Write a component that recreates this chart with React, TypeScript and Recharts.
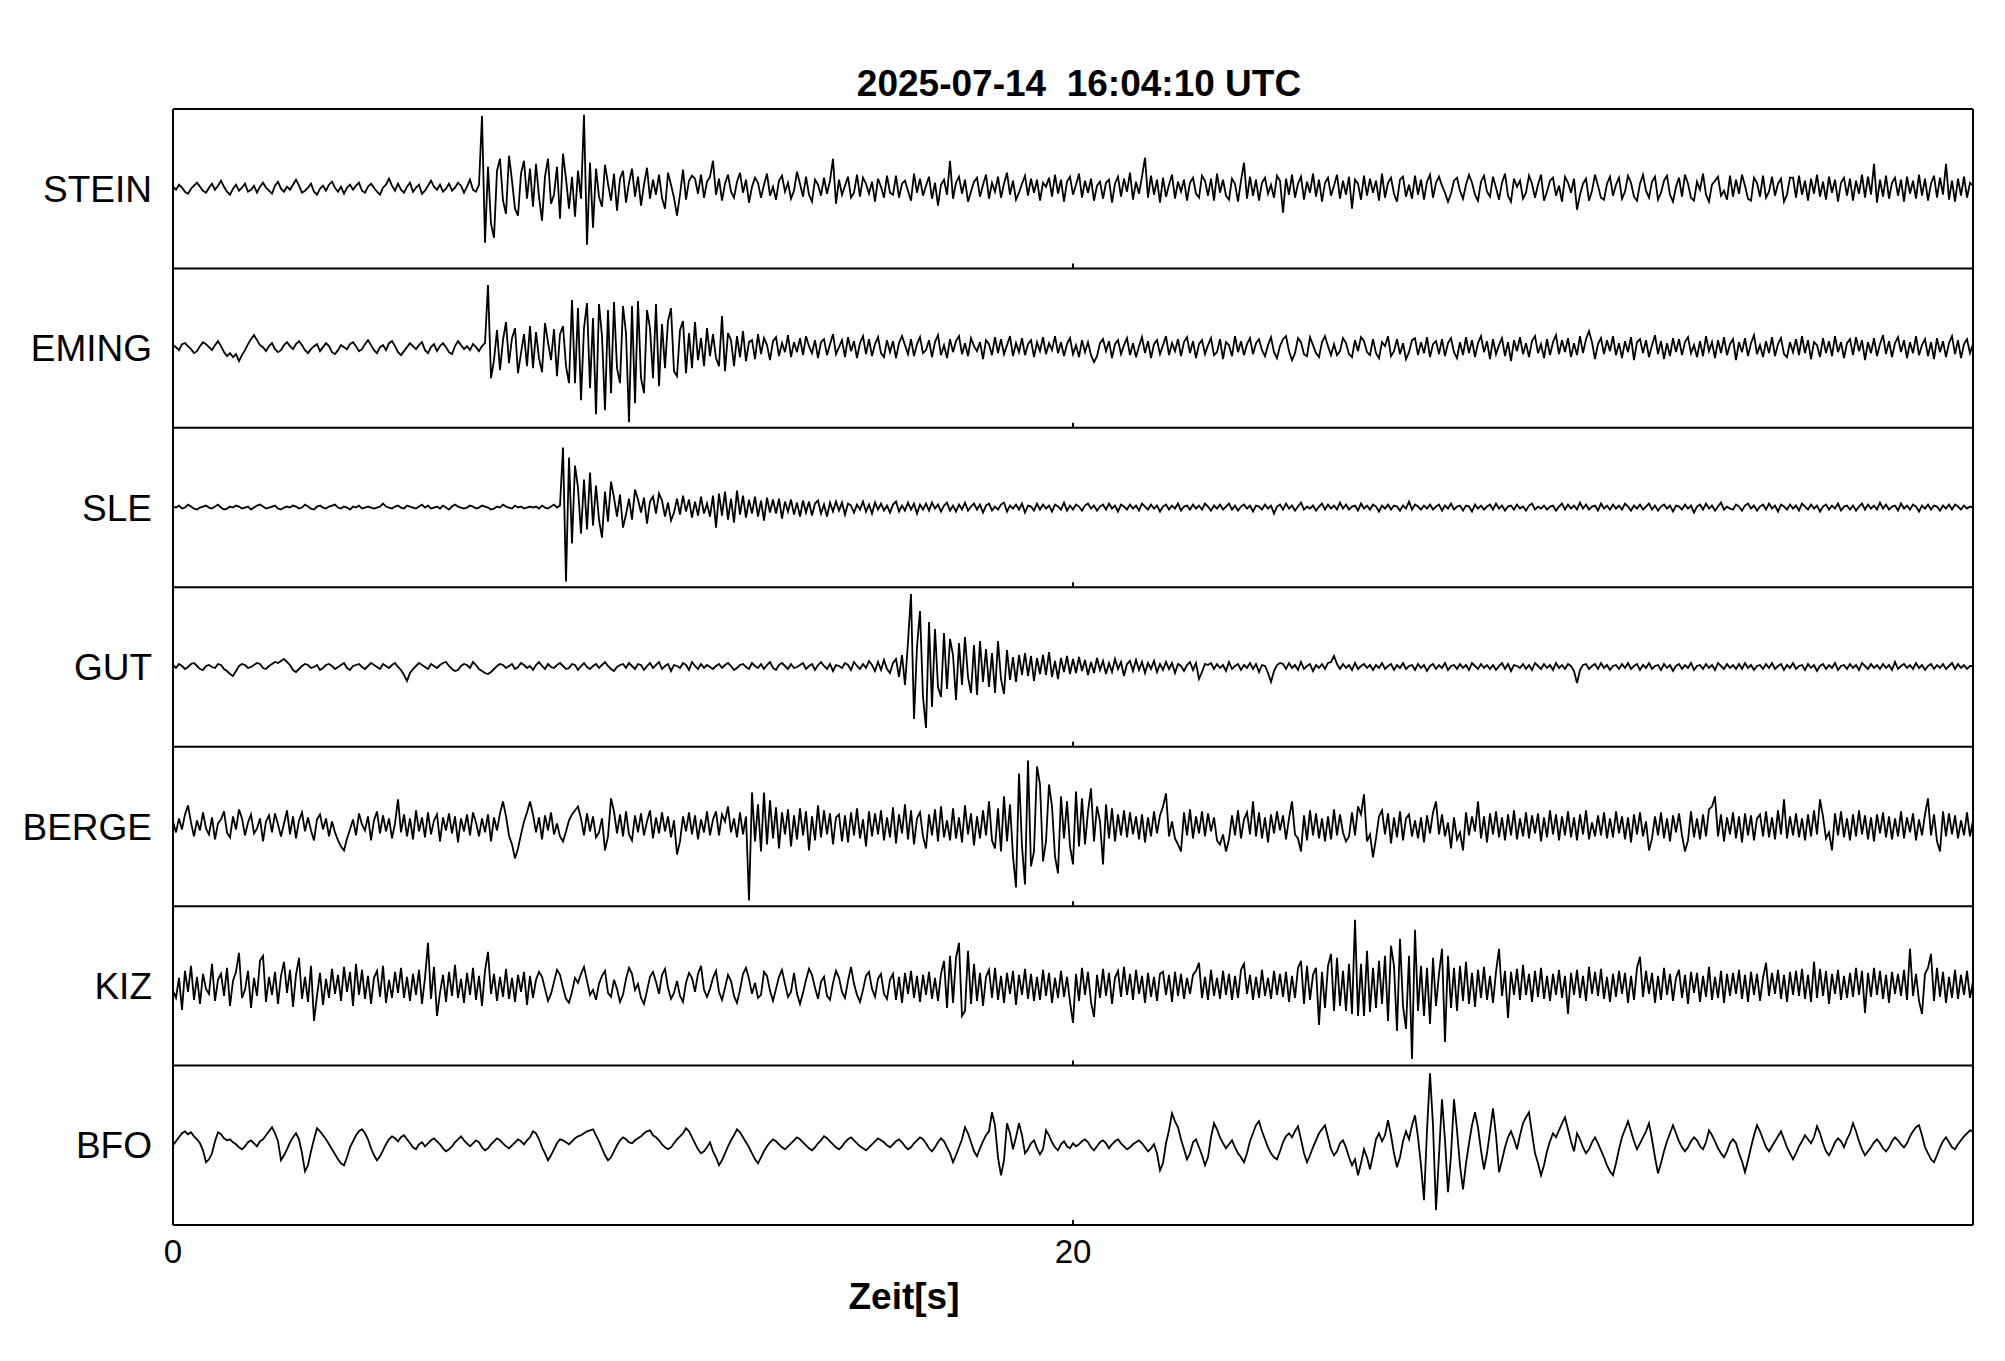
import React from "react";
import { LineChart, Line, XAxis, YAxis, ReferenceLine } from "recharts";

// seismogram traces: 15 samples per second over 40 s,
// amplitude in px of the original figure (up = positive)
const STATIONS = ["STEIN", "EMING", "SLE", "GUT", "BERGE", "KIZ", "BFO"];
const DURATION = 40;
const X_TICKS = [0, 20];
const TITLE = "2025-07-14  16:04:10 UTC";

const STEIN = [
  2,-1,4,1,-3,-5,0,3,6,2, -2,-4,1,5,-1,3,8,2,-3,-6, 0,4,-2,1,5,-3,-1,3,-4,2, 6,1,-2,-5,3,7,0,-3,2,-1, 4,9,3,-4,-2,1,5,-3,-6,0, 3,-2,4,7,1,-3,2,-5,1,4,
  -1,3,6,-2,-4,2,5,1,-3,-6, 1,4,10,3,-2,5,-1,-4,2,6, -3,1,4,-5,-2,3,8,2,-1,4, -3,0,5,-2,1,6,3,-4,2,9, -1,-3,4,73,-54,22,-35,-49,18,30, -12,-25,33,8,-20,-27,15,28,-10,20,
  -18,25,-8,-32,12,30,-15,-6,22,-30, 35,10,-20,12,-28,18,-10,74,-56,26, -39,20,-8,-18,24,5,-12,15,-22,10, 18,-14,6,20,-8,12,-17,4,21,-10, 9,-6,14,-9,-20,16,4,-9,-27,-6, 19,-11,8,13,10,-5,14,-9,7,12,
  28,-6,10,-12,5,14,-3,-9,7,16, -4,9,-14,2,11,6,-9,4,15,-7, 2,-11,8,13,-3,6,-10,-2,17,5, -8,12,-6,-13,9,4,-7,11,-5,8, 30,-15,9,-6,3,12,-9,-4,14,-8, 11,5,-5,7,-13,10,2,-9,13,-4,
  -6,13,-9,5,8,-2,-12,15,-4,10, -7,3,12,-10,6,-17,4,9,-6,28, -10,6,12,-5,9,-13,-3,7,11,-8, 4,14,-10,6,-3,12,-9,5,16,-6, 8,-11,-4,5,13,-7,10,-4,9,-12, 6,2,11,-8,14,-5,9,-13,7,12,
  -6,4,15,-9,8,-4,10,-12,3,7, -10,6,9,-14,5,12,-8,10,-3,16, -11,7,-5,12,31,-9,13,-6,9,-14, 11,-8,4,14,-10,7,-3,9,-12,6, 11,-5,-9,13,8,-7,10,-12,15,-4, 9,-7,-11,10,5,-13,8,26,-10,12,
  -7,9,-12,6,11,-5,4,-9,13,8, -24,10,-6,14,-9,5,12,-11,7,-4, 15,-8,9,-13,6,11,-7,3,14,-10, 8,-6,12,-20,9,5,-11,13,-7,10, -4,8,-12,15,-9,6,11,-5,-13,9, 12,-8,4,-10,13,-6,9,-11,7,14,
  -9,6,12,3,-4,-13,-5,8,11,-2, -10,4,14,6,-6,-12,7,13,-3,-8, 12,1,-11,6,15,-7,-13,10,2,8, -10,-4,13,5,-9,4,14,-12,-3,8, 11,-7,3,-13,12,6,-4,10,-21,-6, 5,10,-12,-2,14,3,-9,-11,5,12,
  -7,4,11,-10,-3,13,6,-8,-12,5, 14,-2,-9,7,12,-11,-4,8,13,-6, -13,2,11,-8,14,5,-9,-12,7,-1, 15,-6,-13,4,8,12,-7,-2,-11,13, -8,9,-5,14,3,-10,-12,11,6,-8, 13,-9,-3,12,-7,5,10,-13,-6,11,
  11,-9,13,-6,8,-12,10,-5,14,-8, 7,-11,12,-4,9,-13,6,11,-7,10, -12,8,-5,14,-9,12,-6,25,-14,9, -8,13,-10,6,11,-7,9,-13,12,-5, 8,-10,14,-7,10,-12,5,13,-9,11, -6,25,-11,8,-13,10,-7,12,-9,6,
  3,
];

const EMING = [
  3,1,-2,4,5,2,-1,-5,-3,2, 6,4,1,-2,3,7,2,-4,-8,-5, -9,-6,-13,-7,-2,4,9,13,8,3, 1,-3,2,5,-1,-4,-2,3,6,2, -1,4,7,3,-2,-5,-1,2,4,-3, 1,5,2,-4,-6,-2,3,1,-1,4,
  6,2,-3,-1,4,8,3,-2,-5,1, 3,-2,5,7,2,-4,-7,-3,1,5, 2,-1,3,6,-2,-5,1,4,-3,2, 5,1,-4,-6,2,7,3,-1,2,-2, 4,1,-3,2,5,63,-30,-12,18,-22, 8,26,-15,10,20,-25,-5,14,-18,22,
  -20,16,-10,-24,25,6,-12,19,-28,14, 22,-18,-35,48,-35,40,-52,20,45,-40, 30,-66,44,12,-62,38,-45,46,-20,-35, 42,15,-74,42,-55,47,-30,-45,38,20, -30,44,-38,24,-20,27,40,-23,-28,18, 27,-25,15,-20,26,-12,10,-18,20,-8,
  14,-10,-18,32,-23,15,8,-18,12,-9, 17,-13,6,8,-11,14,-6,10,3,-12, 7,11,-8,5,-4,13,-9,6,-4,10, -7,12,2,-5,8,-10,6,9,-7,4, 14,-6,1,8,-9,11,-3,7,-10,5, 12,-6,9,-8,4,11,-5,-9,8,-4,
  7,-10,5,12,3,-6,9,-8,4,11, -5,-2,8,-9,6,13,-7,3,-10,9, -4,7,12,-6,5,-8,10,2,-3,6, -11,8,4,-7,11,-5,9,-6,3,12, -8,5,-4,10,-7,4,8,-9,6,-3, 11,-6,5,-2,12,-5,6,-8,4,10,
  -6,3,-9,8,-4,6,-7,-14,-8,5, 9,-3,7,-10,4,8,-6,3,10,-7, 5,-9,2,11,-5,7,-10,4,8,-6, 3,12,-7,5,-3,9,-8,6,11,-5, 7,-10,4,8,-6,3,10,-7,-4,9, -11,6,3,-8,12,-4,7,-7,4,10,
  -6,5,9,-2,-8,3,11,-4,-10,2, 9,12,-3,-12,-5,10,6,-6,-8,11, 3,-5,-9,6,12,2,-7,4,-7,-3, 10,5,-6,-9,8,-3,11,7,-4,-7, 9,-5,-10,6,2,12,-8,-3,9,-6, 5,-11,-4,8,10,-7,6,-5,11,-9,
  4,7,-6,9,-8,5,10,-4,-10,6, -7,11,-5,8,-9,5,12,-4,7,-11, 9,-6,3,10,-8,6,-13,8,-3,11, -6,5,-9,7,12,-5,4,-10,9,-7, 6,13,-6,8,-4,10,-9,5,-7,12, -5,9,17,6,-11,4,10,-6,8,-3,
  12,-7,5,-10,7,-4,11,-12,6,9, -5,8,-9,3,13,-6,7,-11,5,-8, 10,-4,9,-7,6,11,-5,3,-9,7, -8,12,-3,6,-10,8,-5,11,-7,4, 9,-12,6,-4,10,-8,5,13,-6,3, -9,7,-5,11,-8,4,10,-6,-9,6,
  -4,9,-7,12,-5,8,-11,6,3,-9, 10,-5,7,-8,12,-4,6,-10,5,9, -7,11,-3,8,-12,6,-5,10,-8,4, 13,-6,7,-9,5,11,-4,8,-10,6, -5,12,-7,3,9,-8,6,-11,10,-4, 7,-9,5,12,-6,8,-10,4,9,-5,
  4,
];

const SLE = [
  1,0,2,-1,0,3,1,-1,-2,0, 1,2,0,-1,1,3,0,-2,-1,1, 0,2,1,-1,0,1,-2,0,2,3, 1,-1,0,1,2,-1,-2,0,1,0, 2,1,-1,0,3,1,-1,-2,1,2, 0,-1,1,2,3,0,-1,1,0,-2,
  1,0,2,-1,0,1,0,-1,0,1, 4,1,0,-1,1,2,0,-1,2,1, 0,-1,1,3,0,2,-1,0,1,-1, 2,0,-2,1,3,1,0,-1,0,2, 1,-1,0,2,1,0,-2,-1,1,0, 3,1,0,-1,2,0,1,-1,0,1,
  0,1,-1,2,0,-1,1,3,0,2, 60,-74,50,-36,42,20,-26,28,-22,35, -18,22,-12,-30,16,-14,26,10,-9,13, -20,-7,9,-12,18,8,-5,10,-16,6, 11,-6,14,7,-9,5,-13,-5,9,-7, 12,-4,8,-10,6,-8,11,-6,4,-9,
  12,-20,14,-8,16,-12,9,-15,17,-7, 12,-10,8,-6,11,-9,7,-13,10,-5, 8,-6,9,-11,6,-4,8,-7,5,-9, 7,-5,6,-8,4,7,-6,3,-9,5, -4,6,-3,5,-7,4,2,-5,3,-2, 6,-4,3,-6,5,-2,4,-3,2,-5,
  3,6,-4,2,-3,5,-2,4,-6,3, -2,4,-3,5,-1,3,-4,2,5,-3, 2,-4,3,-2,5,-3,1,4,-2,3, -5,2,4,-3,1,-2,3,5,-4,2, -1,3,-2,4,-5,2,1,-3,4,-2, 3,-1,2,-4,3,1,-2,5,-3,2,
  -2,3,1,-3,2,4,-1,2,-3,1, 3,-2,4,-1,2,-4,3,1,-2,3, -1,2,-3,4,1,-2,3,-1,2,-4, 1,3,-2,2,-1,4,-3,1,2,-2, 3,-1,2,-2,4,1,-3,2,-1,3, -2,1,4,-2,2,-3,1,3,-1,2,
  -4,2,1,-2,3,-1,2,-6,1,3, -2,4,-1,2,-3,1,5,-2,1,-1, 2,-3,1,4,-2,3,-1,2,-2,5, -1,3,-2,1,2,-3,4,-1,2,-2, 3,1,-4,2,-1,3,-2,2,1,-3, 2,-1,6,-2,3,1,-2,2,-1,3,
  -2,1,3,-3,2,-1,4,-2,1,2, -3,2,1,-4,3,-1,2,-2,1,3, -2,4,-1,2,-3,1,2,-2,3,-1, 1,-3,2,4,-2,1,-1,2,-2,1, 2,-3,1,4,-2,3,-1,2,-2,5, -1,3,-2,1,2,-3,4,-1,2,-2,
  3,-1,2,-2,4,1,-3,2,-1,3, -2,1,4,-2,2,-3,1,3,-1,2, -4,2,1,-2,3,-1,2,-5,1,3, -2,4,-1,2,-3,1,5,-2,1,-1, -2,3,1,-3,2,4,-1,2,-3,1, 3,-2,4,-1,2,-4,3,1,-2,3,
  -1,2,-3,4,1,-2,3,-1,2,-4, 1,3,-2,2,-1,4,-3,1,2,-2, 2,-3,1,4,-2,3,-1,2,-2,5, -1,3,-2,1,2,-3,4,-1,2,-2, 3,1,-4,2,-1,3,-2,2,1,-3, 2,-1,3,-2,3,1,-2,2,-1,1,
  0,
];

const GUT = [
  2,-1,3,1,-2,0,3,4,1,-2, -3,1,2,0,-1,3,2,-2,-4,-7, -9,-4,1,3,2,-1,0,2,4,3, -1,-2,1,3,5,4,6,8,5,2, -3,-5,-2,1,3,2,-1,0,2,-3, -1,2,3,1,-2,0,2,4,-1,-3,
  1,2,3,0,-2,1,4,2,0,-2, 3,1,-1,2,4,0,-3,-8,-14,-6, -2,1,4,2,0,-2,3,1,-1,2, 4,5,1,-2,-4,-3,1,3,2,-1, 5,2,-2,-4,-6,-7,-5,-2,1,3, 2,-1,1,3,-2,0,4,2,-1,1,
  -3,2,5,1,-2,3,0,-1,2,4, 1,-2,-1,3,2,-3,1,4,0,-2, 1,3,-1,2,5,1,-2,-4,0,2, 3,-1,4,1,-2,3,2,-3,1,4, -1,2,5,-2,1,3,-4,2,1,-1, 4,2,-3,5,1,-2,3,-1,2,0,
  -2,1,3,-1,2,4,1,-3,-1,2, 3,0,-2,4,1,-1,3,-2,2,5, -1,-3,2,4,1,-2,3,-1,0,2, 4,-2,1,3,-3,2,5,1,-2,3, -4,2,1,-1,4,2,-3,5,1,-2, 3,-1,6,2,-4,5,-3,7,-2,-6,
  4,8,-10,12,-18,25,73,-52,20,56, -30,-61,45,-40,38,-20,-30,34,-22,28, 12,-33,24,-18,30,-10,-26,22,-28,26, -15,18,-20,14,-26,26,-12,-27,17,-13, 10,-15,12,-8,14,-9,11,-14,9,-7, 12,-8,15,-10,6,-12,9,-5,11,-7,
  8,-6,10,-4,7,-8,5,-6,9,-3, 6,-7,4,-5,8,-2,5,-9,3,6, -4,7,-3,5,-6,4,-2,6,-5,3, -3,5,-2,4,-6,3,1,-4,2,5, -3,4,-12,-5,3,2,4,-2,3,-1, 2,-4,5,-2,1,3,-3,2,-1,4,
  -2,3,-5,2,1,-6,-15,-4,2,4, 3,-2,4,-1,2,-3,5,-2,1,3, -4,2,-1,3,-2,4,5,11,3,-2, 3,-1,2,-3,4,-2,1,3,-1,2, -3,2,-1,4,-2,1,3,-3,2,-1, 4,-2,1,2,-3,3,-1,2,-4,1,
  3,-2,2,-1,4,-3,1,2,-2,3, -1,2,-3,4,1,-2,3,-1,2,-2, 2,-3,1,4,-2,3,-4,2,1,-1, 3,-2,2,-3,4,1,-2,3,-1,2, -3,4,-1,2,-2,3,1,-4,-16,-3, 2,3,-2,1,3,-2,4,-1,2,-3,
  1,2,-2,3,-1,4,-2,1,3,-3, 2,-1,4,-2,1,2,-3,3,-1,2, -4,1,3,-2,2,-1,4,-3,1,2, -2,3,-1,2,-3,4,1,-2,3,-1, 2,-2,3,-2,4,-1,2,-3,1,2, -2,3,-1,4,-2,1,3,-3,2,-1,
  4,-2,1,2,-3,3,-1,2,-4,1, 3,-2,2,-1,4,-3,1,2,-2,3, -1,2,-3,4,1,-2,3,-1,2,-2, 3,-1,2,-3,5,-2,1,3,-1,2, -2,4,-1,2,-3,1,3,-2,2,-1, 3,-2,1,4,-2,3,-1,2,-2,1,
  1,
];

const BERGE = [
  5,-6,8,-3,12,21,4,-10,6,-4, 14,-2,-8,9,-13,3,7,15,-6,-11, 10,-3,17,8,-9,4,12,-7,-2,8, -15,5,11,-6,13,2,-10,3,16,-8, 10,-12,6,14,-5,9,-4,-14,7,12, -3,8,-10,5,-6,-14,-20,-24,-12,-3,
  7,-9,13,2,-4,10,-14,6,15,-7, 11,-5,8,-12,3,27,-6,12,-10,8, -13,16,-5,9,-11,14,-8,6,12,-15, 9,-4,13,-7,10,-16,8,-5,12,-9, 14,4,-10,8,-6,12,-15,9,-4,13, 25,10,-9,-18,-32,-22,-8,5,14,25,
  12,-6,9,-13,11,-4,14,-8,3,-10, -15,-5,6,12,16,20,8,-9,13,-5, 10,-11,-6,8,-24,-10,28,15,-7,12, -10,15,-8,-14,11,-6,13,-9,5,16, -12,9,-7,14,-5,10,-11,6,-28,-15, 10,-5,14,-8,11,-13,7,-6,15,-9,
  7,15,-9,12,5,20,-6,8,-11,14, -8,10,-74,34,-15,22,-25,34,-18,26, -12,19,-22,14,-8,17,-20,11,-13,18, -9,15,-24,10,-14,21,-11,16,-8,13, -18,9,12,-15,11,-16,14,-9,18,-12, 7,-20,15,-10,13,-8,16,-14,9,-11,
  19,-17,12,-7,22,-13,16,-18,8,14, -10,-22,12,-9,17,-15,20,-11,6,-14, 18,-12,9,-16,21,-8,13,-19,10,-12, 16,-9,25,-14,-22,18,-25,30,-15,22, -30,-61,53,-20,-58,66,-40,-25,60,42, -35,-15,42,20,-30,-47,30,-12,25,-20,
  -38,35,-20,28,-18,15,38,-15,20,5, -38,22,-12,18,-15,12,-9,16,-11,14, -8,10,-13,12,-16,9,-10,15,-7,11, 20,33,-10,5,-12,-18,-25,14,-9,17, -12,10,-7,15,-10,13,-5,9,-14,-18, -8,-25,-13,11,-9,16,-12,7,14,-8,
  25,-10,14,-12,9,-16,12,-7,15,-4, 11,-13,8,25,-8,-12,-25,11,-14,16, -9,13,-12,8,-15,10,-13,17,-9,12, -6,-15,-10,14,-9,20,12,32,-15,-8, -31,-12,10,16,-8,13,-17,9,-11,15, -14,8,12,-10,6,-12,9,-16,11,-7,
  14,25,-8,12,-10,4,-22,9,-13,-6, -24,14,-9,10,-5,25,-12,10,-16,13, -8,15,-11,9,-14,12,-9,16,-13,8, -10,14,-12,11,-7,13,-15,9,-11,16, -8,12,-14,10,-9,15,-11,9,-14,12, -8,16,-13,4,-10,11,-9,14,-12,8,
  -11,15,-7,10,-13,9,-16,12,-8,14, -10,5,-24,-12,10,-9,14,-12,8,-15, 11,-6,13,-9,-25,-14,15,-11,8,-13, 12,-10,17,20,30,-10,12,-15,9,-8, 14,-12,10,-16,13,-9,11,-14,8,12, -10,15,-11,9,-13,16,-8,27,-12,10,
  -9,13,-11,8,-14,12,-10,16,-8,27, 10,-12,-6,-24,13,-9,15,-11,8,-14, 12,-10,16,-8,11,-13,9,-15,12,-7, 14,-11,10,-13,8,-10,15,-12,9,-6, 13,-14,7,-9,12,28,-9,12,-15,-25, 15,-10,13,-8,11,-12,6,-9,14,-10,
  6,
];

const KIZ = [
  -5,-12,8,-24,15,-6,20,-14,9,-18, 12,-3,-8,22,-15,6,12,-10,18,-20, 5,14,33,-12,-4,15,-22,8,-10,25, 30,-16,9,-9,14,-18,10,24,-7,16, -21,11,28,-13,9,-16,20,-35,-10,13, -19,7,-12,17,-8,11,-15,19,-6,14,
  -20,22,-9,16,-13,10,-18,8,15,-11, 20,-17,6,-12,14,-7,18,-12,9,-15, 12,-9,16,-18,8,43,-13,19,-30,-7, 11,-16,14,-10,21,-12,7,-17,13,-9, 18,-14,10,-20,15,34,-8,12,-15,9, -11,17,-13,8,-16,11,-6,14,-19,10,
  -12,6,14,9,-3,-15,-8,4,16,11, -2,-13,-17,-6,8,3,12,19,5,-9, -4,-14,2,10,15,-7,-11,6,-3,-16, -9,7,18,12,-4,2,-12,-18,-5,9, 14,4,-8,11,17,-2,-13,-7,5,-10, -16,3,13,8,-6,12,20,-4,-11,-3,
  8,15,-6,-14,-2,11,5,-10,-17,-4, 12,18,7,-8,3,-12,-9,14,10,-5, -15,-3,9,16,2,-11,-6,13,-8,-18, -7,6,17,11,-2,-13,4,9,-10,-14, 3,15,8,-6,-12,5,19,2,-9,-16, -4,10,14,-3,-11,7,12,-8,-13,6,
  12,-14,9,-17,13,-8,15,-12,10,-16, 11,-9,14,-13,8,-15,12,25,-22,30, -17,28,43,-30,-25,35,-18,22,-15,13, -20,9,16,-12,18,-14,10,-17,13,-8, 15,-19,11,-9,17,-13,12,-15,9,-14, 16,-10,13,-17,8,-12,15,-11,9,-16,
  -37,12,-15,18,-9,14,-16,-31,11,-12, 17,-10,13,-18,8,15,-11,19,-9,12, -14,16,-8,10,-17,13,-11,9,-15,12, 14,-9,11,-16,14,-10,12,-13,8,-8, 11,15,23,-12,9,-14,16,-10,8,-13, 15,-9,12,-14,10,-12,16,22,-8,11,
  -14,9,-12,16,-10,8,-13,15,-9,12, -11,14,-16,10,-12,18,25,-18,20,-14, 11,18,-39,14,-22,20,32,-25,28,-20, 15,-25,22,-28,66,-30,22,-30,35,-26, 18,-22,25,-18,30,-35,40,20,-45,47, -20,-43,30,-73,56,-25,20,-30,18,-38,
  28,-20,12,37,-56,30,-22,18,-25,20, -15,24,-18,13,-21,16,-12,19,-14,10, -17,14,37,-10,15,-32,14,-9,17,-14, 21,-9,12,-16,15,-11,18,-13,10,-15, 12,-9,16,-12,10,-28,13,-9,16,-12, 10,-15,19,-8,14,-10,17,-13,9,-16,
  12,-11,15,-8,13,-17,10,-14,18,29, -11,15,-8,13,-17,10,-14,18,-9,12, -15,8,16,-12,11,-18,14,-7,13,-16, 10,-11,19,-14,9,-12,15,-17,12,-10, 13,-8,16,-13,11,-16,14,-9,12,-15, 8,23,-10,13,-8,16,-13,11,-16,14,
  -9,15,-10,17,-13,11,-16,24,-12,17, -10,15,-18,12,-8,16,-14,10,-12,13, -11,18,-9,15,-27,13,-11,18,-9,15, -13,11,-17,14,-8,12,-10,16,-14,37, -10,12,-15,-28,12,18,32,-15,18,-11, 14,-17,9,-12,16,-13,11,-9,15,-12,
  5,
];

const BFO = [
  0,4,8,12,14,11,13,9,6,2, -5,-17,-14,-8,4,13,11,7,5,6, 3,1,-2,-4,-1,3,5,2,-1,4, 6,10,14,18,12,4,-15,-10,-4,3, 8,12,6,-8,-26,-20,-6,6,17,14, 10,6,1,-4,-9,-14,-18,-20,-12,-2,
  4,10,14,16,12,6,-3,-10,-15,-11, -5,1,6,9,7,4,8,10,6,2, -2,-4,1,3,-1,2,5,7,4,1, -3,-6,-4,-1,3,6,9,5,2,-1, 2,5,3,-2,-5,-3,1,4,7,5, 2,-1,-3,0,3,6,4,1,5,8,
  14,12,6,-2,-8,-15,-10,-4,2,6, 5,3,1,4,7,9,10,12,14,15, 16,10,4,-3,-10,-15,-12,-6,0,5, 8,6,3,2,5,7,9,12,14,15, 10,8,5,1,-2,-4,-2,2,6,9, 12,17,14,8,2,-4,-8,-6,-2,3,
  -6,-12,-20,-15,-8,-1,5,10,16,13, 8,3,-2,-8,-14,-18,-12,-6,-1,3, 6,4,1,-2,-4,-1,2,5,8,6, 3,0,-3,-5,-2,2,5,9,7,4, 1,-2,-4,-1,3,6,8,5,2,-1, -3,-5,-2,1,4,7,5,3,0,-2,
  1,4,6,3,-1,-4,-2,2,5,8, 6,2,-3,-6,-2,3,7,4,-2,-8, -17,-10,-2,6,18,12,3,-6,-11,-3, 4,10,14,33,20,-12,-30,-15,22,12, -4,8,22,10,-8,-4,2,5,-3,-9, -4,15,10,3,-2,-5,1,4,-1,-3,
  2,-1,1,4,6,3,-2,-5,-1,3, 5,2,-3,1,4,6,2,-1,-4,-2, 1,3,5,2,-2,-6,-3,1,-8,-25, -18,2,15,32,24,18,6,-4,-14,-8, 3,6,-2,-10,-20,-12,8,22,16,8, 2,-3,1,5,-2,-8,-12,-17,-8,4,
  12,20,24,14,6,-2,-8,-12,-14,-6, 3,9,12,8,14,19,6,-8,-17,-10, -2,5,12,16,20,8,-4,-10,-6,2, 5,-2,-12,-20,-14,-30,-18,-4,-12,-24, -10,6,12,4,10,25,10,-8,-22,-12, 4,14,6,20,30,8,-20,-55,15,72,
  20,-65,-10,46,5,-47,-10,46,15,-20, -44,-18,2,20,33,18,-5,-24,-8,14, 37,10,-27,-15,-2,8,14,6,-4,10, 22,28,33,12,-8,-18,-30,-20,-6,4, 12,8,15,22,28,16,4,-6,12,6, -2,-8,-4,3,8,2,-5,-12,-20,-26,
  -30,-18,-4,8,16,24,14,4,-4,2, 8,14,22,6,-12,-28,-18,-6,4,12, 20,12,4,-2,-6,-2,4,8,5,-1, -4,3,15,10,4,-3,-8,-12,-6,2, 6,2,-8,-16,-27,-15,-2,10,20,14, 6,-2,-6,-1,4,9,14,6,-2,-8,
  -14,-8,-1,4,10,6,2,8,19,12, 2,-6,-10,-4,3,7,4,-2,6,12, 22,14,4,-4,-10,-6,-2,3,6,2, -3,-6,-2,4,8,5,1,-2,2,9, 14,18,20,10,-2,-8,-14,-17,-10,-2, 4,8,3,-2,-4,1,5,9,12,15,
  14,
];

const TRACES = [STEIN, EMING, SLE, GUT, BERGE, KIZ, BFO];

// layout
const PLOT_W = 1800;
const PLOT_H = 1116;
const AXIS_W = 173;
const XAXIS_H = 110;
const PX = PLOT_H / STATIONS.length; // px per panel (= 1 y unit)
const FONT = "'Liberation Sans', Arial, Helvetica, sans-serif";

const nPanels = STATIONS.length;
const centers = STATIONS.map((_, k) => nPanels - 0.5 - k);

// one table per trace: time on the sample grid, value shifted into its panel
const series = TRACES.map((tr, k) =>
  tr.map((v, i) => ({
    t: (i * DURATION) / (tr.length - 1),
    y: centers[k] + v / PX,
  }))
);

const boundaries = Array.from({ length: nPanels + 1 }, (_, k) => k);

export default function App() {
  return (
    <div
      style={{
        position: "absolute",
        left: 0,
        top: 0,
        width: 2005,
        height: 1361,
        background: "#fff",
        fontFamily: FONT,
      }}
    >
      <svg width={2005} height={104} style={{ position: "absolute", left: 0, top: 0 }}>
        <text
          x={1079}
          y={96}
          textAnchor="middle"
          fontSize={37}
          fontWeight="bold"
          fontFamily={FONT}
          fill="#000"
          style={{ whiteSpace: "pre" }}
        >
          {TITLE}
        </text>
      </svg>
      <div style={{ position: "absolute", left: 0, top: 104 }}>
        <LineChart
          width={AXIS_W + PLOT_W + 5}
          height={5 + PLOT_H + XAXIS_H}
          margin={{ top: 5, right: 5, bottom: 0, left: 0 }}
        >
          <XAxis
            dataKey="t"
            type="number"
            domain={[0, DURATION]}
            ticks={X_TICKS}
            allowDuplicatedCategory={false}
            axisLine={false}
            tickLine={false}
            tickMargin={9}
            height={XAXIS_H}
            tick={{ fontSize: 33, fill: "#000", fontFamily: FONT }}
            label={{
              value: "Zeit[s]",
              position: "insideBottom",
              offset: 26,
              dx: -169,
              fill: "#000",
              fontSize: 37,
              fontWeight: "bold",
              fontFamily: FONT,
            }}
          />
          <YAxis
            type="number"
            domain={[0, nPanels]}
            ticks={centers}
            interval={0}
            tickFormatter={(v: number) => STATIONS[Math.round(nPanels - 0.5 - v)]}
            axisLine={false}
            tickLine={false}
            tickMargin={15}
            width={AXIS_W}
            tick={{ fontSize: 37, fill: "#000", fontFamily: FONT }}
          />
          {series.map((d, k) => (
            <Line
              key={k}
              data={d}
              dataKey="y"
              stroke="#000"
              strokeWidth={1.8}
              dot={false}
              activeDot={false}
              isAnimationActive={false}
            />
          ))}
          {boundaries.map((b) => (
            <ReferenceLine key={"h" + b} y={b} stroke="#000" strokeWidth={2} />
          ))}
          <ReferenceLine x={0} stroke="#000" strokeWidth={2} />
          <ReferenceLine x={DURATION} stroke="#000" strokeWidth={2} />
          {boundaries.slice(0, nPanels).map((b) => (
            <ReferenceLine
              key={"tk" + b}
              segment={[
                { x: 20, y: b },
                { x: 20, y: b + 5 / PX },
              ]}
              stroke="#000"
              strokeWidth={2}
            />
          ))}
        </LineChart>
      </div>
    </div>
  );
}
